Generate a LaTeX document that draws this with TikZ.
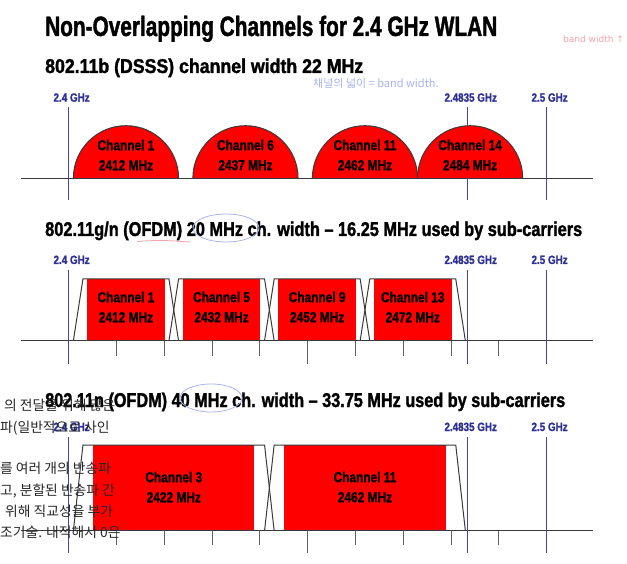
\documentclass[tikz,border=0pt]{standalone}
\usepackage{fontspec}
\usepackage{graphicx}
\setmainfont[FakeStretch=0.72, BoldFeatures={FakeBold=1.3}]{Liberation Sans}
\newfontfamily\chfont[FakeStretch=0.82, BoldFeatures={FakeBold=1.2}]{Liberation Sans}
\newfontfamily\hangul{Noto Sans CJK KR}
\newfontfamily\symb{DejaVu Sans}
\definecolor{chred}{HTML}{FF0000}
\definecolor{axisgray}{HTML}{3A3A3A}
\definecolor{bandblue}{HTML}{4345A3}
\definecolor{labelblue}{HTML}{2E3192}
\definecolor{notepink}{HTML}{F4A3A8}
\definecolor{noteblue}{HTML}{A9B3EE}
\newcommand\fq[1]{68.6+(#1-2400)*4.78}
\tikzset{
  axis/.style={draw=axisgray, line width=1.5pt},
  band/.style={draw=bandblue, line width=1.2pt},
  freq/.style={font=\chfont\bfseries\fontsize{12}{12}\selectfont, text=labelblue, anchor=base, inner sep=0pt},
  chan/.style={font=\chfont\bfseries\fontsize{14.5}{20}\selectfont, align=center, inner sep=0pt},
  head/.style={anchor=base west, inner sep=0pt},
  tick/.style={draw=axisgray!80, line width=1pt},
  mask/.style={draw=axisgray, line width=1pt},
  dome/.style={fill=chred, draw=axisgray, line width=1pt},
  ko/.style={anchor=base west, inner sep=0pt, text=black!85, font=\hangul\fontsize{13.8}{14}\selectfont},
}
\begin{document}
\begin{tikzpicture}[x=1pt, y=-1pt]
  \fill[white] (0,0) rectangle (627,564);
  \useasboundingbox (0,0) rectangle (627,564);

  \node[head] (title) at (45,36)
    {\resizebox{452pt}{\height}{\bfseries\fontsize{28}{28}\selectfont Non-Overlapping Channels for 2.4 GHz WLAN}};

  % 802.11b (DSSS)
  \node[head] (hb) at (45,73)
    {\resizebox{318pt}{\height}{\bfseries\fontsize{20}{20}\selectfont 802.11b (DSSS) channel width 22 MHz}};
  \foreach \f/\lab [count=\i] in {2400/2.4 GHz, 2483.5/2.4835 GHz, 2500/2.5 GHz} {
    \draw[band] ({\fq{\f}},107) -- ({\fq{\f}},200);
    \node[freq] (bf\i) at ({\fq{\f}+3},101.7) {\lab};
  }
  \foreach \f/\n in {2412/1, 2437/6, 2462/11, 2484/14} {
    \filldraw[dome] ({\fq{\f}-52.6},178.3) arc[start angle=180, end angle=360, radius=52.6];
    \node[chan] (b\n) at ({\fq{\f}},155) {Channel \n\\\f\ MHz};
  }
  \draw[axis] (21,178.3) -- (593,178.3);

  % 802.11g/n (OFDM) 20 MHz
  \node[head] (hg) at (45,236)
    {\resizebox{537pt}{\height}{\bfseries\fontsize{20}{20}\selectfont 802.11g/n (OFDM) 20 MHz ch. width – 16.25 MHz used by sub-carriers}};
  \foreach \f/\n in {2412/1, 2432/5, 2452/9, 2472/13} {
    \fill[chred] ({\fq{\f}-38.8},279) rectangle ({\fq{\f}+38.8},340.7);
    \draw[mask] ({\fq{\f}-52.6},340.7) -- ({\fq{\f}-43},279) -- ({\fq{\f}+43},279) -- ({\fq{\f}+52.6},340.7);
    \node[chan] (g\n) at ({\fq{\f}},307) {Channel \n\\\f\ MHz};
  }
  \foreach \f in {2410,2420,...,2490}
    \draw[tick] ({\fq{\f}},340.7) -- ({\fq{\f}},355.5);
  \draw[tick] ({\fq{2450}},355) -- ({\fq{2450}},364);
  \draw[axis] (21,340.7) -- (593,340.7);
  \foreach \f/\lab [count=\i] in {2400/2.4 GHz, 2483.5/2.4835 GHz, 2500/2.5 GHz} {
    \draw[band] ({\fq{\f}},270) -- ({\fq{\f}},364);
    \node[freq] (gf\i) at ({\fq{\f}+3},264) {\lab};
  }

  % 802.11n (OFDM) 40 MHz
  \node[head] (hn) at (45,407)
    {\resizebox{520pt}{\height}{\bfseries\fontsize{20}{20}\selectfont 802.11n (OFDM) 40 MHz ch. width – 33.75 MHz used by sub-carriers}};
  \foreach \f/\n in {2422/3, 2462/11} {
    \fill[chred] ({\fq{\f}-80.7},445) rectangle ({\fq{\f}+80.7},530.7);
    \draw[mask] ({\fq{\f}-100.4},530.7) -- ({\fq{\f}-90.8},445) -- ({\fq{\f}+90.8},445) -- ({\fq{\f}+100.4},530.7);
    \node[chan] (n\n) at ({\fq{\f}},487) {Channel \n\\\f\ MHz};
  }
  \foreach \f in {2410,2420,...,2490}
    \draw[tick] ({\fq{\f}},530.7) -- ({\fq{\f}},545);
  \draw[tick] ({\fq{2450}},545) -- ({\fq{2450}},553);
  \draw[axis] (21,530.7) -- (593,530.7);
  \foreach \f/\lab [count=\i] in {2400/2.4 GHz, 2483.5/2.4835 GHz, 2500/2.5 GHz} {
    \draw[band] ({\fq{\f}},437) -- ({\fq{\f}},553);
    \node[freq] (nf\i) at ({\fq{\f}+3},431) {\lab};
  }

  % notes on top
  \node[anchor=base west, inner sep=0pt, text=notepink, font=\symb\fontsize{9}{9}\selectfont] (bw) at (563,43) {band width ↑};
  \node[anchor=base west, inner sep=0pt, text=noteblue, font=\hangul\fontsize{11}{11}\selectfont] (cw) at (313,88) {채널의 넓이 = band width.};
  \draw[noteblue, line width=0.8pt] (226,228) ellipse[x radius=33, y radius=14];
  \draw[notepink, line width=0.8pt] (137,241.5) .. controls (160,240) .. (190,242);
  \draw[noteblue, line width=0.8pt] (211,398) ellipse[x radius=31, y radius=14];

  \node[ko] (k1) at (4,410) {의 전달을 위해 많은};
  \node[ko] (k2) at (0,432) {파(일반적으로 사인};
  \node[ko] (k3) at (0,473) {를 여러 개의 반송파};
  \node[ko] (k4) at (0,495) {고, 분할된 반송파 간};
  \node[ko] (k5) at (5,516) {위해 직교성을 부가};
  \node[ko] (k6) at (0,537) {조기술. 내적해서 0은};
\end{tikzpicture}
\end{document}
